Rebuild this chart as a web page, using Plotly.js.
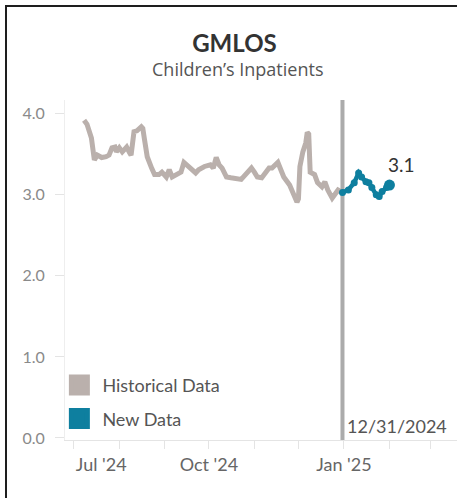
<!DOCTYPE html>
<html><head><meta charset="utf-8">
<script src="https://cdn.plot.ly/plotly-3.0.1.min.js"></script>
<style>
html,body{margin:0;padding:0;background:#fff;}
#wrap{position:relative;width:457px;height:498px;overflow:hidden;}
#chart{position:absolute;left:0;top:0;width:457px;height:498px;}
#frame{position:absolute;left:5px;top:5px;right:-10px;bottom:-10px;border-top:2px solid #1e1e1e;border-left:2px solid #1e1e1e;pointer-events:none;}
</style></head><body>
<div id="wrap"><div id="chart"></div><div id="frame"></div></div>
<script>
const histDates = ['2024-07-08','2024-07-10','2024-07-13','2024-07-14','2024-07-15','2024-07-17','2024-07-20','2024-07-23','2024-07-25','2024-07-27','2024-07-29','2024-07-30','2024-08-01','2024-08-03','2024-08-06','2024-08-08','2024-08-09','2024-08-11','2024-08-13','2024-08-16','2024-08-17','2024-08-18','2024-08-20','2024-08-23','2024-08-25','2024-08-28','2024-08-30','2024-09-02','2024-09-04','2024-09-06','2024-09-10','2024-09-12','2024-09-14','2024-09-16','2024-09-20','2024-09-22','2024-09-24','2024-09-28','2024-10-02','2024-10-04','2024-10-06','2024-10-08','2024-10-10','2024-10-13','2024-10-16','2024-10-20','2024-10-23','2024-10-27','2024-10-30','2024-11-01','2024-11-03','2024-11-06','2024-11-09','2024-11-11','2024-11-13','2024-11-17','2024-11-19','2024-11-21','2024-11-25','2024-11-27','2024-11-30','2024-12-01','2024-12-02','2024-12-04','2024-12-06','2024-12-07','2024-12-08','2024-12-09','2024-12-12','2024-12-14','2024-12-17','2024-12-19','2024-12-21','2024-12-24','2024-12-26','2024-12-28','2024-12-30','2024-12-31'];
const histValues = [3.92,3.87,3.70,3.47,3.43,3.49,3.46,3.47,3.49,3.58,3.59,3.53,3.58,3.53,3.59,3.52,3.49,3.78,3.79,3.84,3.82,3.70,3.47,3.33,3.25,3.25,3.28,3.22,3.31,3.22,3.25,3.28,3.40,3.37,3.31,3.27,3.31,3.35,3.37,3.33,3.46,3.37,3.33,3.22,3.21,3.19,3.19,3.27,3.33,3.28,3.22,3.21,3.27,3.33,3.33,3.40,3.31,3.22,3.12,3.02,2.91,2.95,3.35,3.53,3.64,3.77,3.75,3.28,3.25,3.15,3.10,3.16,3.06,2.96,3.02,3.06,3.04,3.03];
const newDates = ['2024-12-31','2025-01-04','2025-01-08','2025-01-11','2025-01-13','2025-01-16','2025-01-18','2025-01-20','2025-01-23','2025-01-25','2025-01-27','2025-01-30','2025-02-01'];
const newValues = [3.03,3.06,3.15,3.27,3.22,3.16,3.15,3.09,3.00,2.98,3.04,3.09,3.12];
const seriesNames = ['Historical Data','New Data'];
const xTickDates = ['2024-07-01','2024-10-01','2025-01-01'];
const xTickLabels = ["Jul '24","Oct '24","Jan '25"];
const yTickValues = [0,1,2,3,4];
const yTickLabels = ['0.0','1.0','2.0','3.0','4.0'];
const refDate = '2024-12-31';
const refLabel = '12/31/2024';
const lastLabel = '3.1';
const titleText = 'GMLOS';
const subtitleText = 'Children’s Inpatients';

const FONT = 'Lato, "Noto Sans", sans-serif';
const GRAY = '#bab0ac', TEAL = '#0e7f9f';
const lastIdx = newValues.length - 1;

const traces = [
  {x: histDates, y: histValues, mode: 'lines', line: {color: GRAY, width: 5}, showlegend: false},
  {x: newDates, y: newValues, mode: 'lines+markers', line: {color: TEAL, width: 4.5},
   marker: {color: TEAL, opacity: 1, line: {width: 0},
            size: newValues.map((v, i) => i === lastIdx ? 11 : 7)}, showlegend: false},
  {x: [null], y: [null], mode: 'markers', name: seriesNames[0], legendgroup: 'a',
   marker: {symbol: 'square', size: 16, color: GRAY, line: {color: GRAY, width: 5}}},
  {x: [null], y: [null], mode: 'markers', name: seriesNames[1], legendgroup: 'b',
   marker: {symbol: 'square', size: 16, color: TEAL, line: {color: TEAL, width: 5}}}
];

const layout = {
  width: 457, height: 498,
  margin: {l: 65, r: 0, t: 100, b: 58},
  paper_bgcolor: 'rgba(0,0,0,0)', plot_bgcolor: 'rgba(0,0,0,0)',
  font: {family: FONT, color: '#555', size: 16},
  title: {
    text: '<b>' + titleText + '</b>', x: 0.513, xref: 'container', xanchor: 'center',
    y: 0.912, yref: 'container', yanchor: 'middle',
    font: {family: FONT, size: 24, color: '#333'}
  },
  xaxis: {
    type: 'date', range: ['2024-06-25', '2025-03-19'],
    tickmode: 'array', tickvals: xTickDates,
    ticktext: xTickLabels.map((t, i) => i === 0 ? '\u00a0'.repeat(12) + t : t),
    ticks: 'outside', ticklen: 8, tickcolor: '#e4e4e4', tickwidth: 1,
    minor: {dtick: 'M1', tick0: '2024-07-01', ticks: 'outside', ticklen: 8, tickcolor: '#e4e4e4', showgrid: false},
    showline: true, linecolor: '#e4e4e4', linewidth: 1,
    showgrid: false, zeroline: false,
    tickfont: {family: FONT, size: 18, color: '#666'}
  },
  yaxis: {
    range: [-0.025, 4.17],
    tickmode: 'array', tickvals: yTickValues, ticktext: yTickLabels,
    ticks: 'outside', ticklen: 9, tickcolor: '#e4e4e4', tickwidth: 1,
    showline: true, linecolor: '#eeeeee', linewidth: 1,
    showgrid: false, zeroline: false,
    ticklabelstandoff: 7,
    tickfont: {family: FONT, size: 16, color: '#8a8a8a'}
  },
  legend: {
    x: -0.022, xanchor: 'left', y: 0.215, yanchor: 'top',
    itemwidth: 36,
    bgcolor: 'rgba(0,0,0,0)', tracegroupgap: 7,
    font: {family: FONT, size: 18, color: '#555'}
  },
  shapes: [
    {type: 'line', xref: 'x', yref: 'paper', x0: refDate, x1: refDate, y0: 0, y1: 1,
     line: {color: '#ababab', width: 4}, layer: 'below'}
  ],
  annotations: [
    {x: 0.441, y: 1.091, xref: 'paper', yref: 'paper', xanchor: 'center', yanchor: 'middle',
     text: subtitleText, showarrow: false,
     font: {family: '"Open Sans", sans-serif', size: 18, color: '#555'}},
    {x: refDate, y: 0, xref: 'x', yref: 'paper', xanchor: 'left', yanchor: 'bottom',
     text: refLabel, showarrow: false, xshift: 3, yshift: 1, bgcolor: '#fff',
     font: {family: FONT, size: 18, color: '#555'}},
    {x: newDates[lastIdx], y: newValues[lastIdx], xref: 'x', yref: 'y', xanchor: 'left', yanchor: 'bottom',
     text: lastLabel, showarrow: false, xshift: -3, yshift: 7,
     font: {family: FONT, size: 19, color: '#333'}}
  ]
};

Plotly.newPlot('chart', traces, layout, {staticPlot: true, displayModeBar: false});
</script>
</body></html>
